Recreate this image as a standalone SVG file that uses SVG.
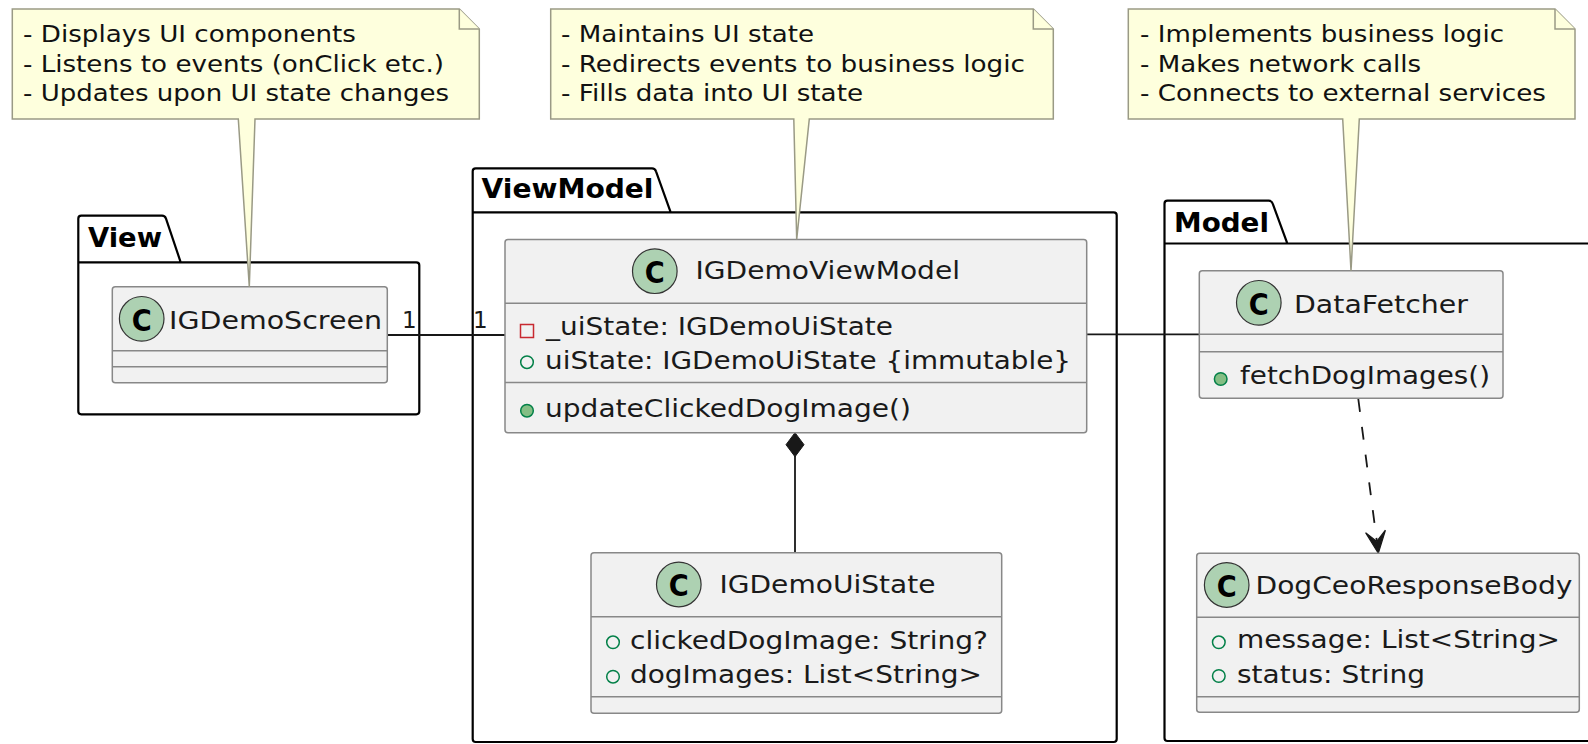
<svg xmlns="http://www.w3.org/2000/svg" width="1588" height="744" viewBox="0 0 1588 744">
<style>
text{font-family:"DejaVu Sans","Liberation Sans",sans-serif;fill:#1a1a1a;}
.pkg{fill:none;stroke:#000;stroke-width:2.2;}
.pl{font-weight:bold;font-size:26px;fill:#000;}
.cls{fill:#F1F1F1;stroke:#888;stroke-width:1.5;}
.div{stroke:#888;stroke-width:1.5;}
.cn{font-size:25px;}
.at{font-size:25px;}
.circ{fill:#ADD1B2;stroke:#333;stroke-width:1.2;}
.cc{font-size:31px;font-weight:bold;text-anchor:middle;fill:#000;}
.priv{fill:none;stroke:#C82930;stroke-width:1.5;}
.pubf{fill:none;stroke:#038048;stroke-width:1.5;}
.pubm{fill:#84BE84;stroke:#038048;stroke-width:1.5;}
.note{fill:#FEFFDD;stroke:#9A9A85;stroke-width:1.5;}
.nt{font-size:23.5px;fill:#111;}
.ln{stroke:#181818;stroke-width:1.8;fill:none;}
.lbl{font-size:23px;}
</style>

<g id="pkg-view">
<path class="pkg" d="M78.3,262.3 L78.3,218.7 Q78.3,215.7 81.3,215.7 L162,215.7 Q165,215.7 166,218.7 L180.7,262.3 L416.3,262.3 Q419.3,262.3 419.3,265.3 L419.3,411.3 Q419.3,414.3 416.3,414.3 L81.3,414.3 Q78.3,414.3 78.3,411.3 Z M78.3,262.3 L180.7,262.3"/>
<text class="pl" x="88" y="247.3" textLength="74" lengthAdjust="spacingAndGlyphs">View</text>
</g>

<g id="pkg-viewmodel">
<path class="pkg" d="M472.7,212.3 L472.7,171.3 Q472.7,168.3 475.7,168.3 L652,168.3 Q655,168.3 656,171.3 L670.7,212.3 L1113.7,212.3 Q1116.7,212.3 1116.7,215.3 L1116.7,739 Q1116.7,742 1113.7,742 L475.7,742 Q472.7,742 472.7,739 Z M472.7,212.3 L670.7,212.3"/>
<text class="pl" x="481.5" y="197.7" textLength="172" lengthAdjust="spacingAndGlyphs">ViewModel</text>
</g>

<g id="pkg-model">
<path class="pkg" d="M1164.5,243.5 L1164.5,203.7 Q1164.5,200.7 1167.5,200.7 L1268.7,200.7 Q1271.7,200.7 1272.7,203.7 L1287.3,243.5 L1600,243.5 L1600,741 L1167.5,741 Q1164.5,741 1164.5,738 Z M1164.5,243.5 L1287.3,243.5"/>
<text class="pl" x="1174" y="231.7" textLength="95" lengthAdjust="spacingAndGlyphs">Model</text>
</g>

<g id="connectors">
<line class="ln" x1="387.3" y1="335" x2="505" y2="335"/>
<text class="lbl" x="402" y="327.7">1</text>
<text class="lbl" x="473" y="327.7">1</text>
<line class="ln" x1="1086.7" y1="334.3" x2="1199.3" y2="334.3"/>
<line class="ln" x1="795" y1="456" x2="795" y2="552.7"/>
<polygon points="795,432.7 804,444.7 795,456.7 786,444.7" fill="#181818" stroke="#181818" stroke-width="1"/>
<line class="ln" x1="1358.3" y1="399" x2="1376.8" y2="541" stroke-dasharray="13,15" stroke-width="1.6"/>
<polygon points="1378.3,553.3 1365.6,532.8 1376.8,541.4 1385.4,530.2" fill="#181818" stroke="#181818" stroke-width="1.2" stroke-linejoin="miter"/>
</g>

<g id="IGDemoScreen">
<rect class="cls" x="112.3" y="286.7" width="275" height="96" rx="3"/>
<line class="div" x1="112.3" y1="350.7" x2="387.3" y2="350.7"/>
<line class="div" x1="112.3" y1="366.7" x2="387.3" y2="366.7"/>
<circle class="circ" cx="141.7" cy="318.8" r="22.3"/>
<text class="cc" x="131.7" y="330.5" textLength="20" lengthAdjust="spacingAndGlyphs" style="text-anchor:start">C</text>
<text class="cn" x="169" y="329.3" textLength="213" lengthAdjust="spacingAndGlyphs">IGDemoScreen</text>
</g>

<g id="IGDemoViewModel">
<rect class="cls" x="505" y="239.5" width="581.7" height="193.2" rx="3"/>
<line class="div" x1="505" y1="303.3" x2="1086.7" y2="303.3"/>
<line class="div" x1="505" y1="382.5" x2="1086.7" y2="382.5"/>
<circle class="circ" cx="654.8" cy="271.2" r="22.3"/>
<text class="cc" x="644.8" y="282.9" textLength="20" lengthAdjust="spacingAndGlyphs" style="text-anchor:start">C</text>
<text class="cn" x="695.5" y="279.3" textLength="264.5" lengthAdjust="spacingAndGlyphs">IGDemoViewModel</text>
<rect class="priv" x="520.5" y="324.5" width="13" height="13"/>
<text class="at" x="546" y="335" textLength="347" lengthAdjust="spacingAndGlyphs">_uiState: IGDemoUiState</text>
<circle class="pubf" cx="527" cy="362.2" r="6.3"/>
<text class="at" x="545" y="369" textLength="526" lengthAdjust="spacingAndGlyphs">uiState: IGDemoUiState {immutable}</text>
<circle class="pubm" cx="527" cy="410.7" r="6.3"/>
<text class="at" x="545" y="416.7" textLength="366" lengthAdjust="spacingAndGlyphs">updateClickedDogImage()</text>
</g>

<g id="IGDemoUiState">
<rect class="cls" x="591" y="552.7" width="410.7" height="160.6" rx="3"/>
<line class="div" x1="591" y1="616.7" x2="1001.7" y2="616.7"/>
<line class="div" x1="591" y1="696.7" x2="1001.7" y2="696.7"/>
<circle class="circ" cx="678.8" cy="584.5" r="22.3"/>
<text class="cc" x="668.8" y="596.2" textLength="20" lengthAdjust="spacingAndGlyphs" style="text-anchor:start">C</text>
<text class="cn" x="719.5" y="593.3" textLength="216" lengthAdjust="spacingAndGlyphs">IGDemoUiState</text>
<circle class="pubf" cx="613" cy="642.3" r="6.3"/>
<text class="at" x="630" y="649.3" textLength="358" lengthAdjust="spacingAndGlyphs">clickedDogImage: String?</text>
<circle class="pubf" cx="613" cy="676.7" r="6.3"/>
<text class="at" x="630" y="683.3" textLength="352" lengthAdjust="spacingAndGlyphs">dogImages: List&lt;String&gt;</text>
</g>

<g id="DataFetcher">
<rect class="cls" x="1199.3" y="270.7" width="303.7" height="127.6" rx="3"/>
<line class="div" x1="1199.3" y1="334.3" x2="1503" y2="334.3"/>
<line class="div" x1="1199.3" y1="351.7" x2="1503" y2="351.7"/>
<circle class="circ" cx="1258.8" cy="302.8" r="22.3"/>
<text class="cc" x="1248.8" y="314.5" textLength="20" lengthAdjust="spacingAndGlyphs" style="text-anchor:start">C</text>
<text class="cn" x="1294" y="313.3" textLength="174" lengthAdjust="spacingAndGlyphs">DataFetcher</text>
<circle class="pubm" cx="1220.7" cy="379" r="6.3"/>
<text class="at" x="1240" y="384" textLength="250" lengthAdjust="spacingAndGlyphs">fetchDogImages()</text>
</g>

<g id="DogCeoResponseBody">
<rect class="cls" x="1196.7" y="553.3" width="382.6" height="159" rx="3"/>
<line class="div" x1="1196.7" y1="617.3" x2="1579.3" y2="617.3"/>
<line class="div" x1="1196.7" y1="696.7" x2="1579.3" y2="696.7"/>
<circle class="circ" cx="1226.7" cy="585" r="22.3"/>
<text class="cc" x="1216.7" y="596.7" textLength="20" lengthAdjust="spacingAndGlyphs" style="text-anchor:start">C</text>
<text class="cn" x="1255.5" y="594.3" textLength="317" lengthAdjust="spacingAndGlyphs">DogCeoResponseBody</text>
<circle class="pubf" cx="1218.8" cy="642.3" r="6.3"/>
<text class="at" x="1237" y="648.3" textLength="323" lengthAdjust="spacingAndGlyphs">message: List&lt;String&gt;</text>
<circle class="pubf" cx="1218.8" cy="676" r="6.3"/>
<text class="at" x="1237" y="682.7" textLength="188" lengthAdjust="spacingAndGlyphs">status: String</text>
</g>

<g id="note-view">
<path class="note" d="M12.3,9 L459.3,9 L479.3,29 L479.3,119 L255,119 L249.3,286.7 L238.3,119 L12.3,119 Z"/>
<path class="note" d="M459.3,9 L459.3,29 L479.3,29"/>
<text class="nt" x="23" y="42" textLength="333" lengthAdjust="spacingAndGlyphs">- Displays UI components</text>
<text class="nt" x="23" y="71.7" textLength="421" lengthAdjust="spacingAndGlyphs">- Listens to events (onClick etc.)</text>
<text class="nt" x="23" y="101" textLength="426" lengthAdjust="spacingAndGlyphs">- Updates upon UI state changes</text>
</g>

<g id="note-viewmodel">
<path class="note" d="M550.7,9 L1033.3,9 L1053.3,29 L1053.3,119 L809.3,119 L796.7,239.3 L793.8,119 L550.7,119 Z"/>
<path class="note" d="M1033.3,9 L1033.3,29 L1053.3,29"/>
<text class="nt" x="561" y="42" textLength="253" lengthAdjust="spacingAndGlyphs">- Maintains UI state</text>
<text class="nt" x="561" y="71.7" textLength="464" lengthAdjust="spacingAndGlyphs">- Redirects events to business logic</text>
<text class="nt" x="561" y="101" textLength="302" lengthAdjust="spacingAndGlyphs">- Fills data into UI state</text>
</g>

<g id="note-model">
<path class="note" d="M1128.3,9 L1555,9 L1575,29 L1575,119 L1359.3,119 L1351,270.7 L1342.7,119 L1128.3,119 Z"/>
<path class="note" d="M1555,9 L1555,29 L1575,29"/>
<text class="nt" x="1140" y="42" textLength="364" lengthAdjust="spacingAndGlyphs">- Implements business logic</text>
<text class="nt" x="1140" y="71.7" textLength="281" lengthAdjust="spacingAndGlyphs">- Makes network calls</text>
<text class="nt" x="1140" y="101" textLength="406" lengthAdjust="spacingAndGlyphs">- Connects to external services</text>
</g>
</svg>
